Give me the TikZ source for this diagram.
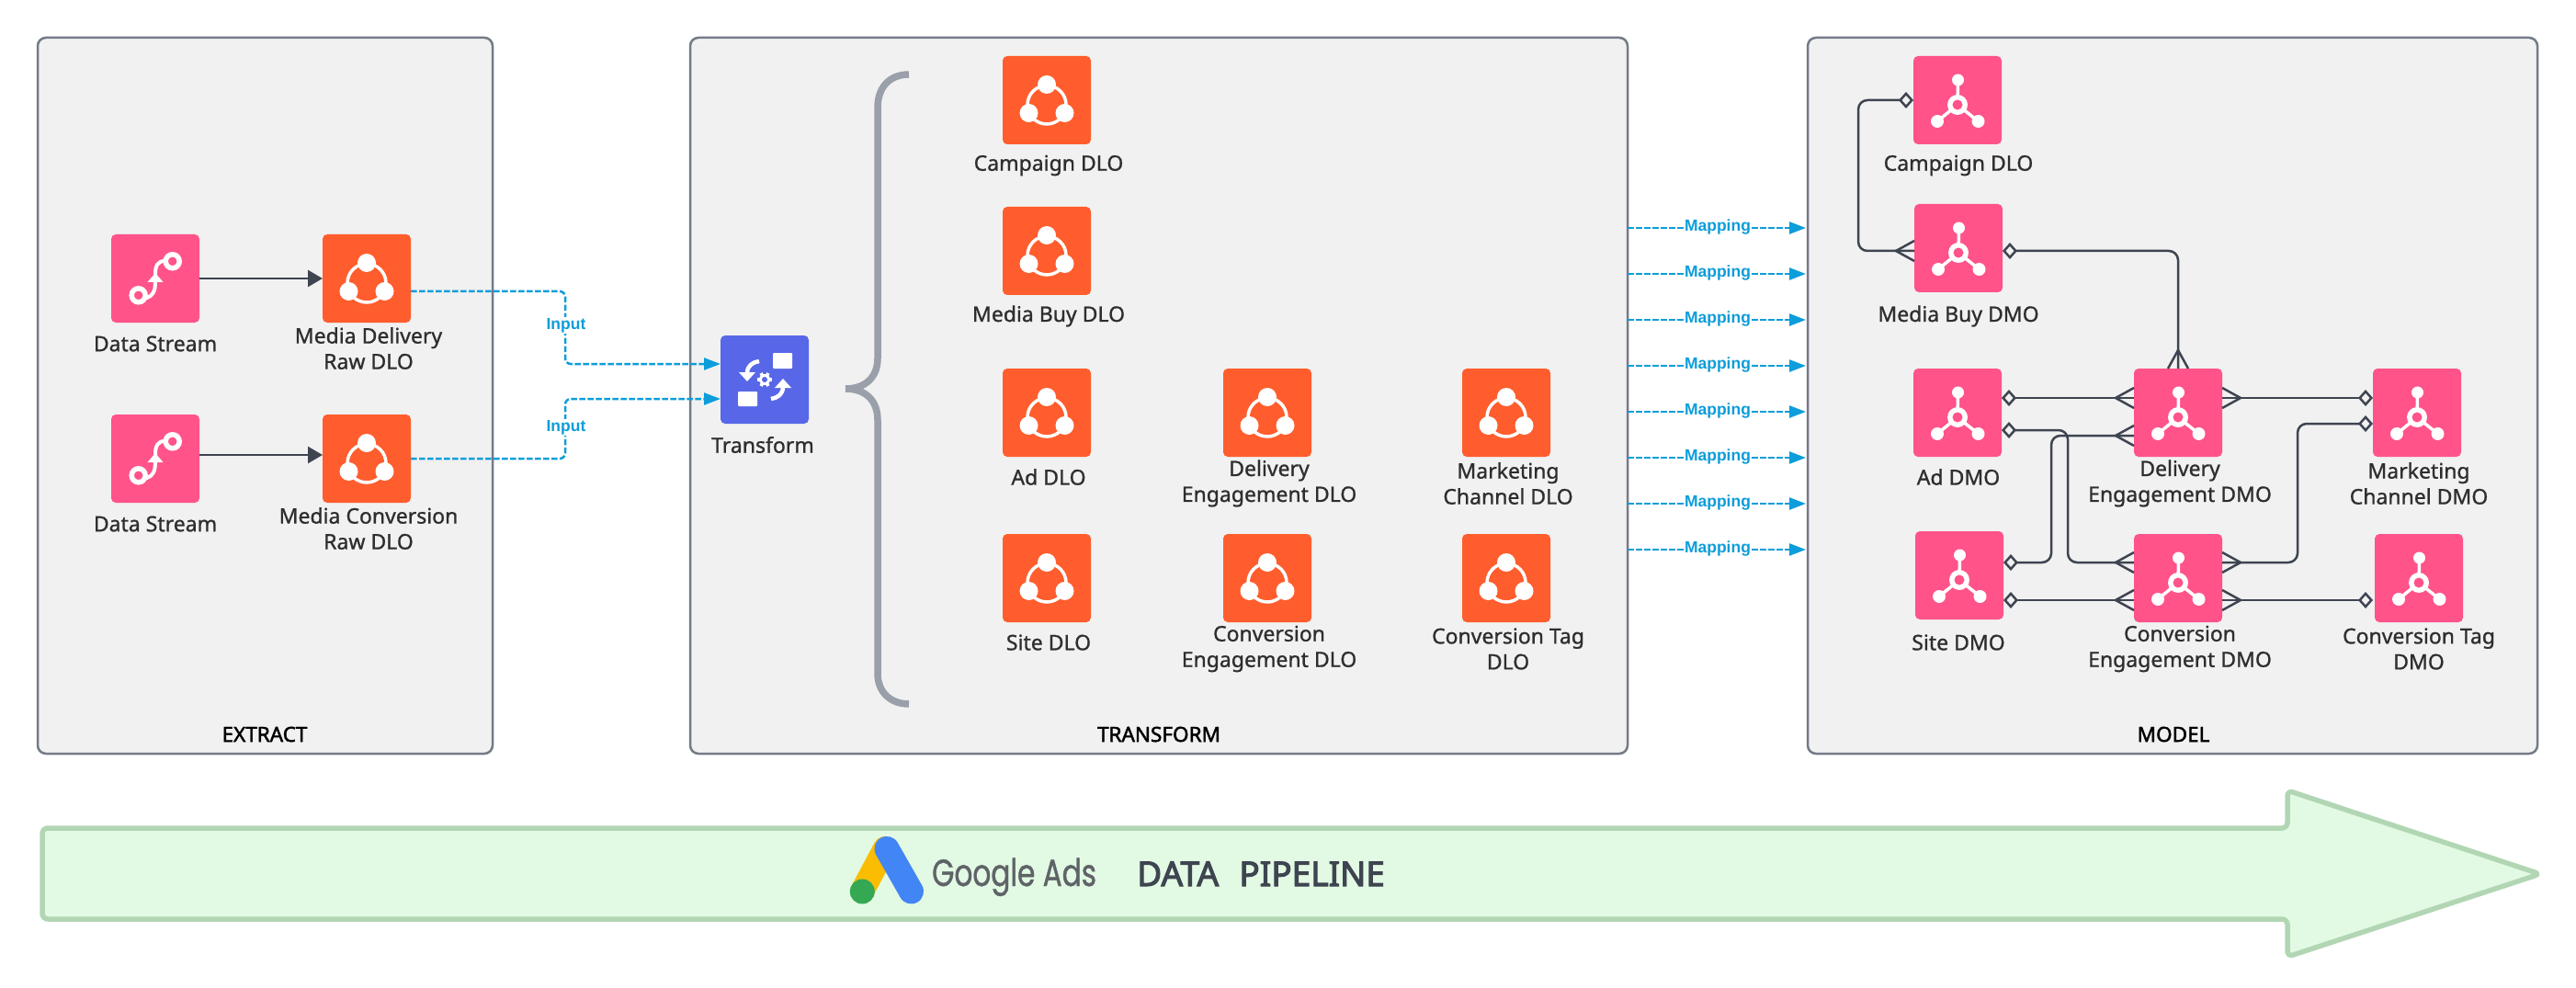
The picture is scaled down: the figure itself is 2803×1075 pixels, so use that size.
\documentclass[tikz,border=0pt]{standalone}
\usepackage{fontspec}
\usepackage{xcolor}
\usetikzlibrary{arrows.meta}
\setmainfont[FakeBold=1]{Noto Sans}
\newfontfamily\titlefont[FakeBold=2]{Noto Sans}
\newfontfamily\flowfont{Liberation Sans}
\newfontfamily\adsfont[FakeStretch=0.76,FakeBold=1]{Poppins}
\newfontfamily\pipefont[FakeBold=3]{Noto Sans}
\definecolor{panelgray}{RGB}{241,241,241}
\definecolor{panelline}{RGB}{116,122,136}
\definecolor{streampink}{RGB}{255,83,138}
\definecolor{dloorange}{RGB}{255,93,45}
\definecolor{xformblue}{RGB}{88,103,232}
\definecolor{flowblue}{RGB}{13,157,218}
\definecolor{linedark}{RGB}{62,68,80}
\definecolor{labeltext}{RGB}{46,46,46}
\definecolor{bracegray}{RGB}{154,160,170}
\definecolor{pipefill}{RGB}{226,250,227}
\definecolor{pipeline}{RGB}{178,214,180}
\definecolor{adsblue}{RGB}{66,133,244}
\definecolor{adsyellow}{RGB}{251,188,4}
\definecolor{adsgreen}{RGB}{52,168,83}
\definecolor{adsgray}{RGB}{95,99,104}
\pgfdeclarearrow{
  name=Crow,
  setup code={
    \pgfarrowssettipend{0pt}
    \pgfarrowssetlineend{0pt}
    \pgfarrowssetbackend{-20pt}
  },
  drawing code={
    \pgfpathmoveto{\pgfqpoint{0pt}{11pt}}
    \pgfpathlineto{\pgfqpoint{-20pt}{0pt}}
    \pgfpathlineto{\pgfqpoint{0pt}{-11pt}}
    \pgfusepathqstroke
  }
}
\tikzset{
  panel/.style={draw=panelline, fill=panelgray, line width=2.5pt, rounded corners=9pt, inner sep=0pt, outer sep=0pt},
  paneltitle/.style={font=\titlefont\fontsize{22.5}{24}\selectfont, text=black},
  iconbox/.style={minimum size=96pt, inner sep=0pt, outer sep=0pt, rounded corners=5pt},
  streambox/.style={iconbox, fill=streampink},
  dlobox/.style={iconbox, fill=dloorange},
  xformbox/.style={iconbox, fill=xformblue},
  iconlabel/.style={font=\fontsize{23}{28}\selectfont, text=labeltext, align=center},
  solidarrow/.style={draw=linedark, line width=2.5pt, -{Triangle[length=16pt,width=18pt]}},
  flow/.style={draw=flowblue, line width=2.5pt, dash pattern=on 6.5pt off 2.5pt, rounded corners=6pt, -{Triangle[length=18pt,width=13pt,sep=0pt]}},
  flowlabel/.style={font=\flowfont\bfseries\fontsize{17.5}{20}\selectfont, text=flowblue, fill=white, inner sep=1pt},
  relation/.style={draw=linedark, line width=2.5pt, rounded corners=10pt, {Diamond[fill=panelgray,length=16pt,width=18pt]}-{Crow}},
  pics/streamsym/.style={code={
    \draw[white, line width=5.5pt] (-18.3,18.3) circle (7.5);
    \draw[white, line width=5.5pt] (18.7,-18.7) circle (7.5);
    \draw[white, line width=4pt, line cap=round] (-9,21) .. controls (-3,19) and (0,14) .. (0,4) -- (0,-5) .. controls (0,-14) and (3,-19) .. (10,-19);
    \fill[white] (-8.5,4) -- (0,-6) -- (8.5,4) -- cycle;
  }},
  pics/dlosym/.style={code={
    \draw[white, line width=3.5pt] (0,5) circle (21);
    \foreach \cx/\cy in {0/-17,-19.5/14,19.5/14} {
      \fill[white] (\cx,\cy) circle (10);
    }
  }},
  pics/dmosym/.style={code={
    \foreach \cx/\cy/\cr in {0.5/-22/6.5,-22/23/7,22.5/23/7} {
      \draw[white, line width=3.5pt] (0,5) -- (\cx,\cy);
      \fill[white] (\cx,\cy) circle (\cr);
    }
    \fill[white] (0,5) circle (11);
    \fill[streampink] (0,5) circle (5.5);
  }},
  pics/xformsym/.style={code={
    \fill[white, rounded corners=1pt] (9,-29) rectangle (30,-12);
    \fill[white, rounded corners=1pt] (-29,13) rectangle (-8,29);
    \draw[white, line width=4.5pt] (-6,-20) .. controls (-13,-19) and (-19,-15) .. (-19,-7);
    \fill[white] (-28,-8) -- (-10,-8) -- (-19,2) -- cycle;
    \draw[white, line width=4.5pt] (7,21) .. controls (14,20) and (20,16) .. (20,8);
    \fill[white] (11,9) -- (29,9) -- (20,-1) -- cycle;
    \foreach \a in {0,60,120,180,240,300} {
      \draw[white, line width=3.5pt] (0,0) -- (\a:8);
    }
    \fill[white] (0,0) circle (6);
    \fill[xformblue] (0,0) circle (3);
  }}
}
\begin{document}
\begin{tikzpicture}[x=1pt, y=-1pt]
\useasboundingbox (0,0) rectangle (2803,1075);

% Draw the three panels
\node[panel, minimum width=495pt, minimum height=779pt] (extractpanel) at (288.5,430.5) {};
\node[panel, minimum width=1020pt, minimum height=779pt] (xformpanel) at (1261,430.5) {};
\node[panel, minimum width=794pt, minimum height=779pt] (modelpanel) at (2364,430.5) {};
\node[paneltitle] (extracttitle) at (288,799) {EXTRACT};
\node[paneltitle] (xformtitle) at (1261,799) {TRANSFORM};
\node[paneltitle] (modeltitle) at (2365,799) {MODEL};

% Brace in front of the transform objects
\draw[bracegray, line width=7.5pt] (989,81) .. controls (968,81) and (955,95) .. (955,117) -- (955,390)
  .. controls (955,410) and (942,423) .. (920,423) .. controls (942,423) and (955,436) .. (955,457) -- (955,733)
  .. controls (955,752) and (968,766) .. (989,766);

% Add icons
\foreach \name/\x/\y in {streamone/169/303,streamtwo/169/499} {
  \node[streambox] (\name) at (\x,\y) {};
  \pic at (\name) {streamsym};
}
\foreach \name/\x/\y in {rawone/399/303,rawtwo/399/499,campdlo/1139/109,buydlo/1139/273,addlo/1139/449,deldlo/1379/449,mktdlo/1639/449,sitedlo/1139/629,convdlo/1379/629,tagdlo/1639/629} {
  \node[dlobox] (\name) at (\x,\y) {};
  \pic at (\name) {dlosym};
}
\foreach \name/\x/\y in {campdmo/2130/109,buydmo/2131/270,addmo/2130/449,deldmo/2370/449,mktdmo/2630/449,sitedmo/2132/626,convdmo/2370/629,tagdmo/2632/629} {
  \node[streambox] (\name) at (\x,\y) {};
  \pic at (\name) {dmosym};
}
\node[xformbox] (xform) at (832,413) {};
\pic at (xform) {xformsym};

% Add icon labels
\foreach \name/\x/\y/\txt in {
  streamonetxt/169/374/{Data Stream},
  streamtwotxt/169/570/{Data Stream},
  rawonetxt/401/379/{Media Delivery\\Raw DLO},
  rawtwotxt/401/575/{Media Conversion\\Raw DLO},
  xformtxt/830/484/{Transform},
  campdlotxt/1141/180/{Campaign DLO},
  buydlotxt/1141/344/{Media Buy DLO},
  addlotxt/1141/519/{Ad DLO},
  deldlotxt/1381/526/{Delivery\\Engagement DLO},
  mktdlotxt/1641/526/{Marketing\\Channel DLO},
  sitedlotxt/1141/699/{Site DLO},
  convdlotxt/1381/706/{Conversion\\Engagement DLO},
  tagdlotxt/1641/706/{Conversion Tag\\DLO},
  campdmotxt/2131/180/{Campaign DLO},
  buydmotxt/2131/344/{Media Buy DMO},
  addmotxt/2131/519/{Ad DMO},
  deldmotxt/2372/526/{Delivery\\Engagement DMO},
  mktdmotxt/2632/526/{Marketing\\Channel DMO},
  sitedmotxt/2131/699/{Site DMO},
  convdmotxt/2372/706/{Conversion\\Engagement DMO},
  tagdmotxt/2632/706/{Conversion Tag\\DMO}} {
  \node[iconlabel] (\name) at (\x,\y) {\txt};
}

% Add connecting arrows
\draw[solidarrow] (streamone) -- (rawone);
\draw[solidarrow] ([yshift=4pt]streamtwo.east) -- ([yshift=4pt]rawtwo.west);

\draw[flow] ([yshift=-14pt]rawone.east) -- ++(168,0) |- ([yshift=17pt]xform.west);
\draw[flow] (rawtwo.east) -- ++(168,0) |- ([yshift=-21pt]xform.west);
\node[flowlabel] (inputone) at (616,354) {Input};
\node[flowlabel] (inputtwo) at (616,465) {Input};

\foreach \y in {248,298,348,398,448,498,548,598} {
  \draw[flow, shorten >=2pt] (xformpanel.east |- 0,\y) -- node[flowlabel, yshift=1pt] (map\y) {Mapping} (modelpanel.west |- 0,\y);
}

% Relations between the model objects
\draw[relation] (campdmo.west) -- ++(-60,0) |- ([yshift=-3pt]buydmo.west);
\draw[relation] ([yshift=-3pt]buydmo.east) -| (deldmo.north);
\draw[relation] ([yshift=16pt]addmo.east) -- ([yshift=16pt]deldmo.west);
\draw[relation] ([yshift=16pt]mktdmo.west) -- ([yshift=16pt]deldmo.east);
\draw[relation] ([yshift=-19pt]addmo.east) -- ++(72,0) |- ([yshift=17pt]convdmo.west);
\draw[relation] ([yshift=14pt]sitedmo.east) -- ++(52,0) |- ([yshift=-25pt]deldmo.west);
\draw[relation] ([yshift=-12pt]mktdmo.west) -- ++(-82,0) |- ([yshift=17pt]convdmo.east);
\draw[relation] ([yshift=-27pt]sitedmo.east) -- ([yshift=-24pt]convdmo.west);
\draw[relation] ([xshift=-2pt,yshift=-24pt]tagdmo.west) -- ([yshift=-24pt]convdmo.east);

% Pipeline arrow with the logo
\draw[draw=pipeline, fill=pipefill, line width=5.5pt, rounded corners=6pt, line join=round]
  (46,901) -- (2489,901) -- (2489,860) -- (2764,951) -- (2489,1041) -- (2489,1000) -- (46,1000) -- cycle;
\draw[adsyellow, line width=26pt, line cap=round] (963,923) -- (938,970);
\draw[adsblue, line width=27pt, line cap=round] (965,923.5) -- (991.5,970);
\fill[adsgreen] (938.3,970) circle (13.5);
\node[font=\adsfont\fontsize{41}{44}\selectfont, text=adsgray, anchor=base west, inner sep=0pt] (adsname) at (1014,964) {Google Ads};
\node[font=\pipefont\fontsize{37}{40}\selectfont, text=linedark, anchor=base west, inner sep=0pt] (pipename) at (1237,964) {DATA\hspace{0.6em}PIPELINE};
\end{tikzpicture}
\end{document}
